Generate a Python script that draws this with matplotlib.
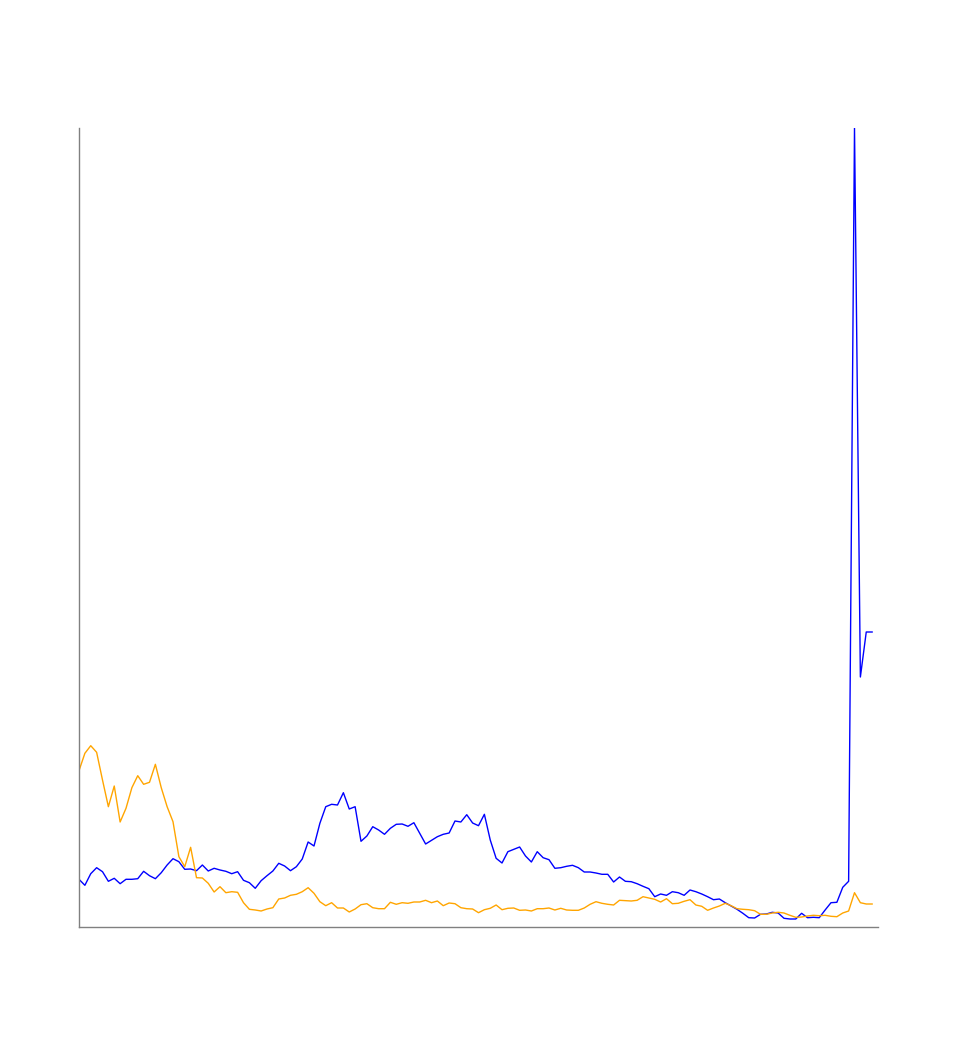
import matplotlib
matplotlib.use("Agg")
import matplotlib.pyplot as plt
import numpy as np

# series values, one per period (arbitrary units)
blue_values = [
    47.7, 41.7, 53.3, 59.3, 55.3, 45.7, 48.7, 43.3, 47.7, 47.7,
    48.3, 55.7, 51.3, 48.3, 54.3, 62.0, 68.3, 65.3, 57.7, 58.0,
    56.3, 62.0, 56.0, 58.7, 57.0, 55.7, 53.3, 55.3, 46.7, 44.3,
    38.7, 46.3, 51.3, 56.0, 63.7, 61.0, 56.3, 60.3, 68.0, 85.0,
    81.0, 103.7, 120.3, 122.7, 122.0, 134.3, 118.0, 120.3, 85.7, 91.0,
    100.3, 97.0, 92.7, 98.7, 102.7, 103.0, 100.7, 104.3, 93.7, 83.0,
    86.7, 90.3, 92.7, 94.0, 106.0, 105.0, 112.3, 104.0, 101.3, 112.7,
    87.0, 68.7, 64.0, 75.3, 77.7, 80.0, 71.0, 65.0, 75.3, 69.3,
    67.3, 58.7, 59.3, 60.7, 61.7, 59.3, 55.0, 55.0, 54.0, 52.7,
    52.7, 45.0, 50.0, 45.7, 45.3, 43.3, 40.7, 38.3, 30.3, 33.0,
    31.7, 35.3, 34.3, 31.7, 37.0, 35.3, 33.0, 30.3, 27.3, 28.0,
    24.3, 21.0, 17.7, 13.7, 9.3, 9.0, 12.7, 13.0, 14.7, 14.0,
    8.7, 8.0, 8.0, 13.7, 9.3, 9.7, 9.3, 17.0, 24.3, 24.7,
    39.7, 45.7, 799.0, 250.0, 295.0, 295.0,
]

orange_values = [
    156.3, 173.7, 181.3, 174.7, 147.0, 120.3, 141.0, 105.0, 118.7, 139.3,
    151.3, 142.7, 144.7, 162.7, 139.3, 120.3, 105.3, 70.3, 60.3, 79.7,
    49.3, 49.0, 43.7, 35.0, 40.3, 34.3, 35.3, 34.7, 24.3, 17.7,
    17.0, 16.0, 18.0, 19.3, 28.0, 29.0, 31.7, 32.7, 35.3, 39.3,
    33.7, 25.3, 21.3, 24.3, 19.0, 19.0, 15.0, 18.0, 22.3, 23.3,
    19.3, 18.3, 18.3, 24.7, 22.7, 24.3, 23.7, 25.0, 25.0, 26.7,
    24.3, 26.0, 21.3, 24.0, 23.3, 19.3, 18.3, 18.0, 14.3, 17.3,
    18.7, 22.0, 17.3, 18.7, 19.0, 16.7, 17.0, 16.0, 18.3, 18.3,
    19.0, 17.0, 18.7, 17.0, 16.7, 16.7, 19.0, 22.7, 25.3, 23.7,
    22.7, 22.0, 26.7, 26.3, 26.0, 26.7, 30.3, 29.0, 27.7, 25.0,
    28.3, 23.3, 23.7, 25.7, 27.3, 22.0, 20.7, 16.7, 19.0, 21.0,
    23.7, 21.3, 18.3, 17.7, 17.3, 16.3, 12.7, 12.7, 14.0, 14.7,
    14.0, 11.7, 9.7, 10.0, 11.0, 11.7, 11.3, 11.7, 10.7, 10.3,
    14.0, 16.0, 34.3, 24.3, 23.0, 23.0,
]

periods = np.arange(len(blue_values))

fig = plt.figure(figsize=(9.58, 10.56), dpi=100)
ax = fig.add_axes([79 / 958, 129 / 1056, 799 / 958, 799 / 1056])

ax.plot(periods, blue_values, color="blue", linewidth=1)
ax.plot(periods, orange_values, color="orange", linewidth=1)

ax.set_xlim(0, len(blue_values))
ax.set_ylim(0, max(blue_values))

# only left and bottom spines, no ticks
for side in ["top", "right"]:
    ax.spines[side].set_visible(False)
for side in ["left", "bottom"]:
    ax.spines[side].set_color("#808080")
    ax.spines[side].set_linewidth(1)
ax.set_xticks([])
ax.set_yticks([])

fig.savefig("out.png", dpi=100)
plt.close(fig)
